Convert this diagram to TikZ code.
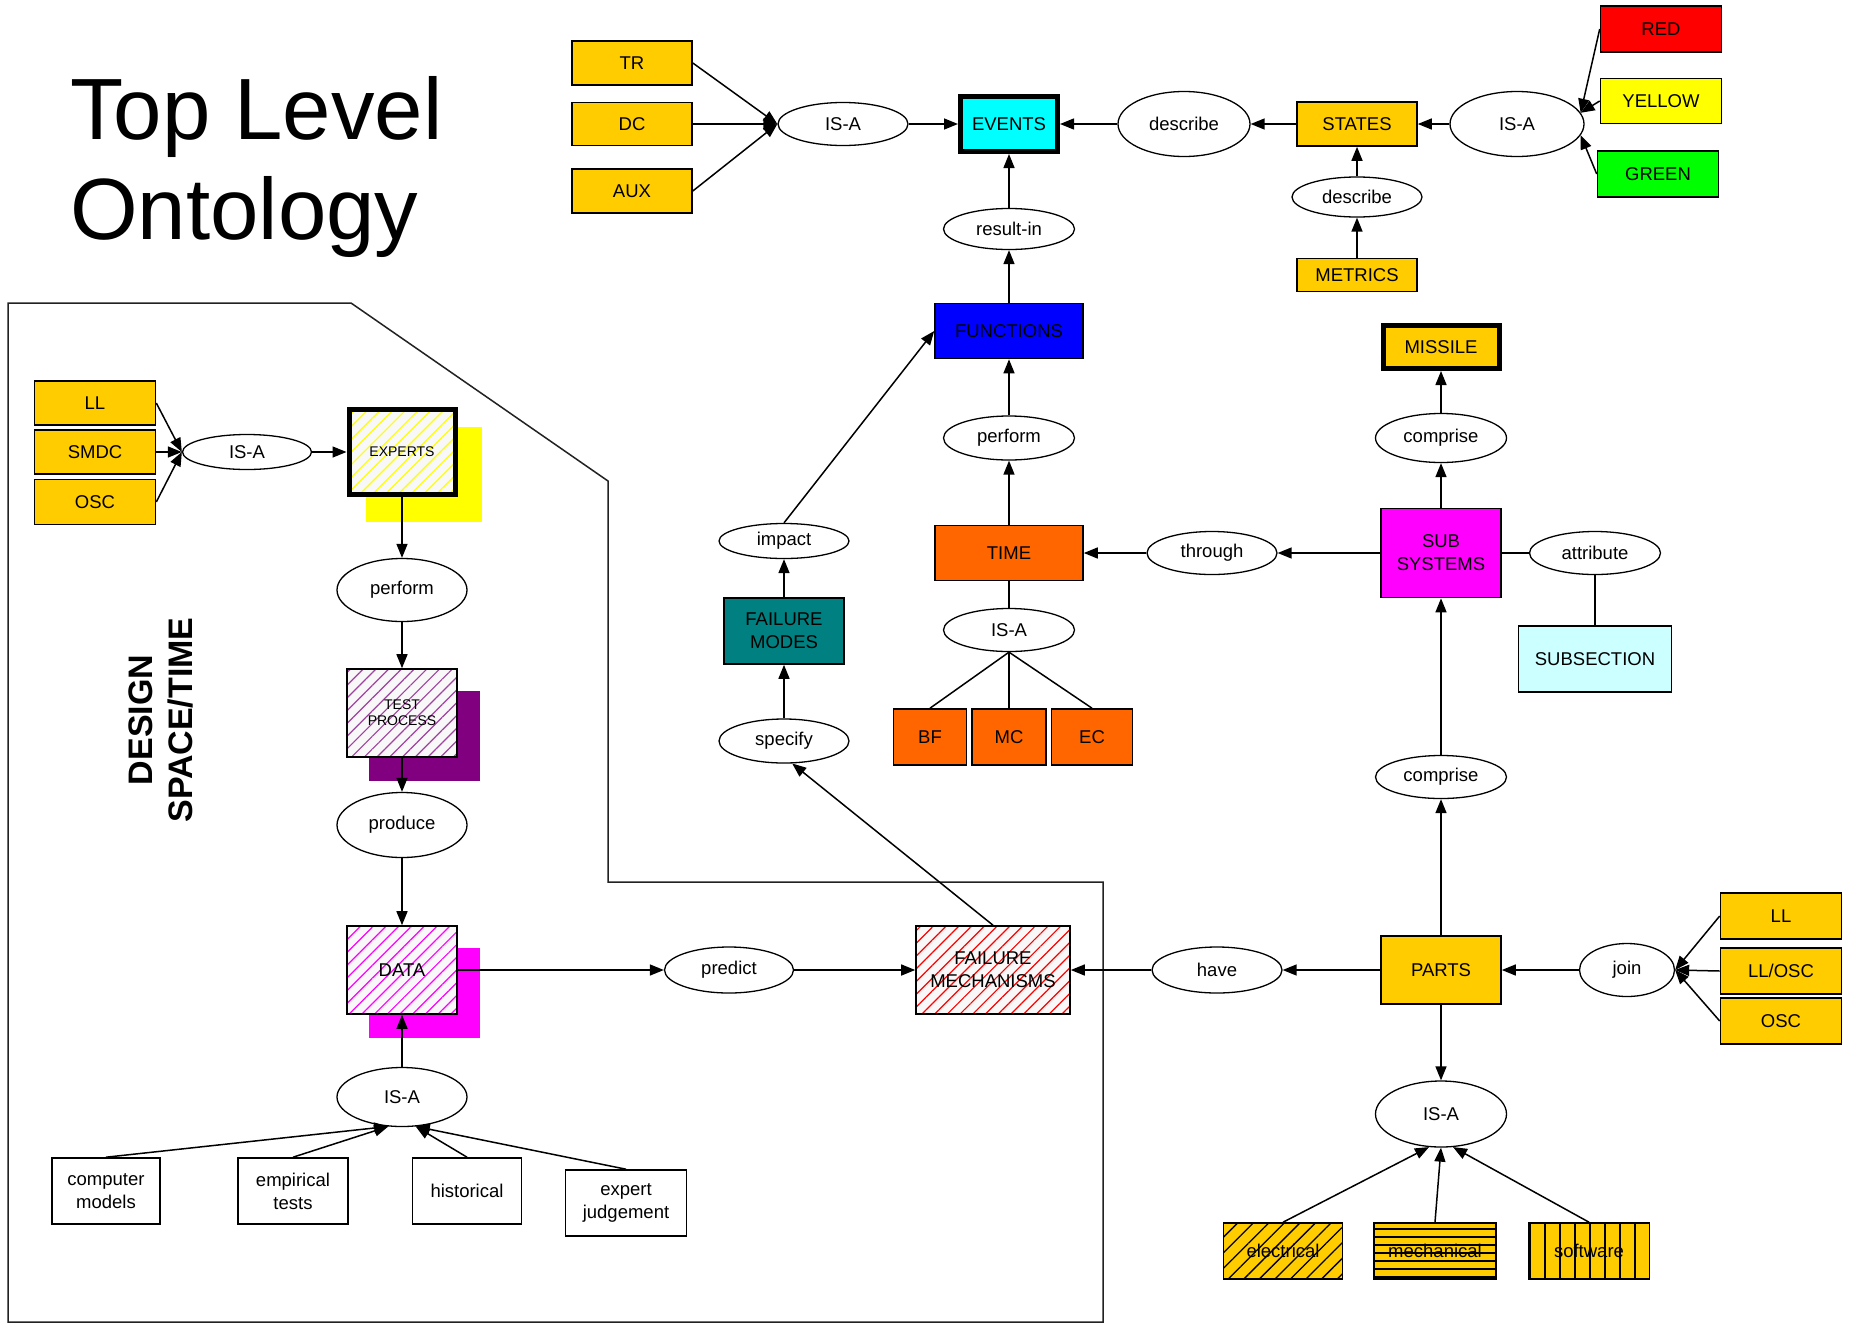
\documentclass[tikz,border=0pt]{standalone}
\usepackage{fontspec}
\setmainfont{Liberation Sans}
\usetikzlibrary{shapes.geometric, arrows.meta, patterns.meta, calc}

\definecolor{gold}{HTML}{FFCC00}
\definecolor{cyanbox}{HTML}{00FFFF}
\definecolor{bluebox}{HTML}{0000FF}
\definecolor{redbox}{HTML}{FF0000}
\definecolor{yellowbox}{HTML}{FFFF00}
\definecolor{greenbox}{HTML}{00FF00}
\definecolor{orangebox}{HTML}{FF6600}
\definecolor{tealbox}{HTML}{008080}
\definecolor{magentabox}{HTML}{FF00FF}
\definecolor{palecyan}{HTML}{CCFFFF}
\definecolor{purpleshadow}{HTML}{800080}
\definecolor{hatchpurple}{HTML}{A040A0}
\definecolor{hatchbg}{HTML}{F8F8F8}
\definecolor{framegray}{HTML}{222222}

\begin{document}
\begin{tikzpicture}[x=1pt, y=-1pt,
  every node/.style={font=\fontsize{18.5}{23}\selectfont, inner sep=0pt, align=center},
  sz/.style 2 args={minimum width=#1pt, minimum height=#2pt},
  box/.style={draw, rectangle, line width=1.6pt},
  thickbox/.style={draw, rectangle, line width=5pt},
  rel/.style={draw, ellipse, line width=1.3pt, fill=white},
  % pale ground with coloured diagonal hatching, border drawn on top
  hatch/.style={preaction={fill=hatchbg},
    preaction={pattern={Lines[angle=45,distance=9pt,line width=1.2pt]}, pattern color=#1}},
  % gold ground with a black line texture, border drawn on top
  texture/.style={preaction={fill=gold},
    preaction={pattern={#1}, pattern color=black}},
  smalltext/.style={font=\fontsize{14}{16}\selectfont},
  arr/.style={line width=1.5pt, -{Triangle[length=14pt,width=11pt]}},
  link/.style={line width=1.5pt}
]
\fill[white] (0,0) rectangle (1849,1325);
\useasboundingbox (0,0) rectangle (1849,1325);

% title
\node[anchor=base west, font=\fontsize{87}{100}\selectfont] (title1) at (70,139) {Top Level};
\node[anchor=base west, font=\fontsize{87}{100}\selectfont] (title2) at (70,239) {Ontology};

% design space/time region
\draw[framegray, line width=1.5pt] (8,303) -- (351,303) -- (608,481) -- (608,882)
  -- (1103,882) -- (1103,1322) -- (8,1322) -- cycle;
\node[rotate=90, font=\bfseries\fontsize{34}{40}\selectfont] (design) at (161,720) {DESIGN\\SPACE/TIME};

% shadows behind the design nodes
\fill[yellowbox] (366,427) rectangle (482,522);
\fill[purpleshadow] (369,691) rectangle (480,781);
\fill[magentabox] (369,948) rectangle (480,1038);

% ---- events cluster ----
\node[box, fill=gold, sz={120}{44}] (tr) at (632,63) {TR};
\node[box, fill=gold, sz={120}{43}] (dc) at (632,124) {DC};
\node[box, fill=gold, sz={120}{44}] (aux) at (632,191) {AUX};
\node[rel, sz={130}{43}] (isaT) at (843,124) {IS-A};
\node[thickbox, fill=cyanbox, sz={97}{55}] (events) at (1009,124) {EVENTS};
\node[rel, sz={132}{65}] (descT) at (1184,124) {describe};
\node[box, fill=gold, sz={120}{44}] (states) at (1357,124) {STATES};
\node[rel, sz={134}{65}] (isaR) at (1517,124) {IS-A};
\node[box, fill=redbox, sz={121}{46}] (red) at (1661,29) {RED};
\node[box, fill=yellowbox, sz={121}{45}] (yellow) at (1661,101) {YELLOW};
\node[box, fill=greenbox, sz={121}{46}] (green) at (1658,174) {GREEN};
\node[rel, sz={130}{40}] (descL) at (1357,197) {describe};
\node[box, fill=gold, sz={120}{33}] (metrics) at (1357,275) {METRICS};

% ---- functions / time column ----
\node[rel, sz={131}{41}] (resultin) at (1009,229) {result-in};
\node[box, fill=bluebox, sz={148}{55}] (functions) at (1009,331) {FUNCTIONS};
\node[rel, sz={131}{44}] (performM) at (1009,438) {perform};
\node[box, fill=orangebox, sz={148}{55}] (time) at (1009,553) {TIME};
\node[rel, sz={131}{43}] (isaTime) at (1009,630) {IS-A};
\node[box, fill=orangebox, sz={73}{56}] (bf) at (930,737) {BF};
\node[box, fill=orangebox, sz={74}{56}] (mc) at (1009,737) {MC};
\node[box, fill=orangebox, sz={81}{56}] (ec) at (1092,737) {EC};

% ---- subsystems column ----
\node[rel, sz={130}{43}] (through) at (1212,553) {through};
\node[box, fill=magentabox, sz={120}{89}] (subsys) at (1441,553) {SUB\\SYSTEMS};
\node[rel, sz={131}{43}] (attribute) at (1595,553) {attribute};
\node[box, fill=palecyan, sz={153}{66}] (subsection) at (1595,659) {SUBSECTION};
\node[rel, sz={131}{49}] (compriseT) at (1441,438) {comprise};
\node[thickbox, fill=gold, sz={116}{43}] (missile) at (1441,347) {MISSILE};
\node[rel, sz={131}{43}] (compriseL) at (1441,777) {comprise};

% ---- parts cluster ----
\node[box, fill=gold, sz={120}{68}] (parts) at (1441,970) {PARTS};
\node[rel, sz={130}{46}] (have) at (1217,970) {have};
\node[rel, sz={95}{53}] (join) at (1627,970) {join};
\node[box, fill=gold, sz={121}{46}] (llR) at (1781,916) {LL};
\node[box, fill=gold, sz={121}{46}] (llosc) at (1781,971) {LL/OSC};
\node[box, fill=gold, sz={121}{46}] (oscR) at (1781,1021) {OSC};
\node[rel, sz={131}{66}] (isaP) at (1441,1114) {IS-A};
\node[box, texture={Lines[angle=45,distance=11pt,line width=1.3pt]}, sz={119}{56}] (electrical) at (1283,1251) {electrical};
\node[box, texture={Lines[angle=0,distance=8pt,line width=2.6pt]}, sz={122}{56}] (mechanical) at (1435,1251) {mechanical};
\node[box, texture={Lines[angle=90,distance=15pt,line width=1.5pt]}, sz={121}{56}] (software) at (1589,1251) {software};

% ---- failure chain ----
\node[box, hatch=redbox, sz={154}{88}] (fmech) at (993,970) {FAILURE\\MECHANISMS};
\node[rel, sz={129}{46}] (predict) at (729,970) {predict};
\node[rel, sz={130}{44}] (specify) at (784,741) {specify};
\node[box, fill=tealbox, sz={120}{66}] (fmodes) at (784,631) {FAILURE\\MODES};
\node[rel, sz={130}{35}] (impact) at (784,541) {impact};

% ---- design space nodes ----
\node[box, fill=gold, sz={121}{44}] (llL) at (95,403) {LL};
\node[box, fill=gold, sz={121}{44}] (smdc) at (95,452) {SMDC};
\node[box, fill=gold, sz={121}{45}] (oscL) at (95,502) {OSC};
\node[rel, sz={129}{35}] (isaL) at (247,452) {IS-A};
\node[thickbox, hatch=yellowbox, smalltext, sz={106}{85}] (experts) at (402,452) {EXPERTS};
\node[rel, sz={130}{63}] (performL) at (402,590) {perform};
\node[box, hatch=hatchpurple, smalltext, sz={110}{88}] (test) at (402,713) {TEST\\PROCESS};
\node[rel, sz={130}{65}] (produce) at (402,825) {produce};
\node[box, hatch=magentabox, sz={110}{88}] (data) at (402,970) {DATA};
\node[rel, sz={130}{59}] (isaD) at (402,1097) {IS-A};
\node[box, fill=white, sz={108}{66}] (cm) at (106,1191) {computer\\models};
\node[box, fill=white, sz={110}{66}] (et) at (293,1191) {empirical\\tests};
\node[box, fill=white, sz={109}{66}] (hist) at (467,1191) {historical};
\node[box, fill=white, sz={121}{66}] (ej) at (626,1203) {expert\\judgement};

% ---- connectors: events cluster ----
\draw[arr] (tr.east) -- (isaT.west);
\draw[arr] (dc.east) -- (isaT.west);
\draw[arr] (aux.east) -- (isaT.west);
\draw[arr] (isaT.east) -- (events.west);
\draw[arr] (descT.west) -- (events.east);
\draw[arr] (states.west) -- (descT.east);
\draw[arr] (isaR.west) -- (states.east);
\draw[arr] (red.west) -- (isaR.10);
\draw[arr] (yellow.west) -- (isaR.10);
\draw[arr] (green.west) -- (isaR.-10);
\draw[arr] (metrics.north) -- (descL.south);
\draw[arr] (descL.north) -- (states.south);

% ---- connectors: functions / time ----
\draw[arr] (resultin.north) -- (events.south);
\draw[arr] (functions.north) -- (resultin.south);
\draw[arr] (performM.north) -- (functions.south);
\draw[arr] (time.north) -- (performM.south);
\draw[link] (time.south) -- (isaTime.north);
\draw[link] (isaTime.south) -- (bf.north);
\draw[link] (isaTime.south) -- (mc.north);
\draw[link] (isaTime.south) -- (ec.north);

% ---- connectors: subsystems ----
\draw[arr] (subsys.west) -- (through.east);
\draw[arr] (through.west) -- (time.east);
\draw[arr] (subsys.north) -- (compriseT.south);
\draw[arr] (compriseT.north) -- (missile.south);
\draw[link] (subsys.east) -- (attribute.west);
\draw[link] (attribute.south) -- (subsection.north);
\draw[arr] (compriseL.north) -- (subsys.south);
\draw[arr] (parts.north) -- (compriseL.south);

% ---- connectors: parts ----
\draw[arr] (join.west) -- (parts.east);
\draw[arr] (llR.west) -- (join.east);
\draw[arr] (llosc.west) -- (join.east);
\draw[arr] (oscR.west) -- (join.east);
\draw[arr] (parts.west) -- (have.east);
\draw[arr] (have.west) -- (fmech.east);
\draw[arr] (parts.south) -- (isaP.north);
\draw[arr] (electrical.north) -- (isaP.250);
\draw[arr] (mechanical.north) -- (isaP.south);
\draw[arr] (software.north) -- (isaP.290);

% ---- connectors: failure chain ----
\draw[arr] (fmech.north) -- (specify.290);
\draw[arr] (specify.north) -- (fmodes.south);
\draw[arr] (fmodes.north) -- (impact.south);
\draw[arr] (impact.north) -- (functions.west);
\draw[arr] (data.east) -- (predict.west);
\draw[arr] (predict.east) -- (fmech.west);

% ---- connectors: design space ----
\draw[arr] (llL.east) -- (isaL.west);
\draw[arr] (smdc.east) -- (isaL.west);
\draw[arr] (oscL.east) -- (isaL.west);
\draw[arr] (isaL.east) -- (experts.west);
\draw[arr] (experts.south) -- (performL.north);
\draw[arr] (performL.south) -- (test.north);
\draw[arr] (test.south) -- (produce.north);
\draw[arr] (produce.south) -- (data.north);
\draw[arr] (isaD.north) -- (data.south);
\draw[arr] (cm.north) -- (isaD.245);
\draw[arr] (et.north) -- (isaD.245);
\draw[arr] (hist.north) -- (isaD.295);
\draw[arr] (ej.north) -- (isaD.295);
\end{tikzpicture}
\end{document}
